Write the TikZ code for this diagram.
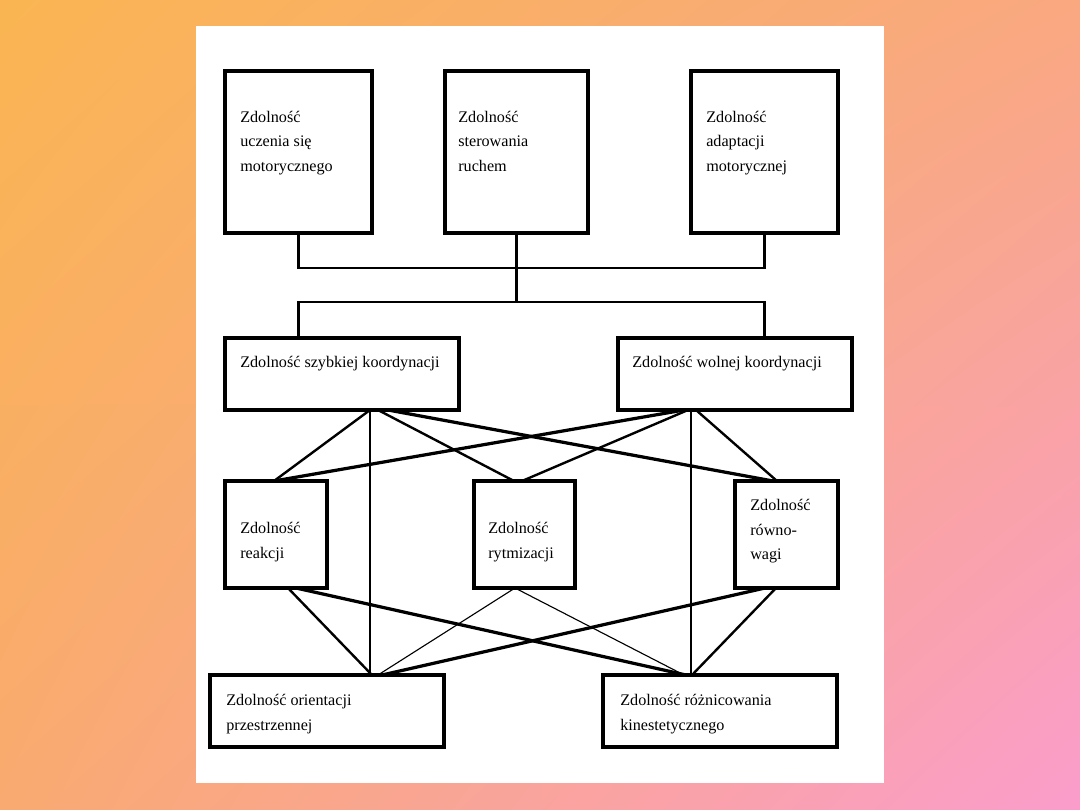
\documentclass[tikz,border=0pt]{standalone}
\usepackage{fontspec}
\setmainfont{Liberation Serif}
\usetikzlibrary{shadings}
\newcommand{\pxl}{0.025cm}
\definecolor{bgul}{RGB}{250,181,82}
\definecolor{bgur}{RGB}{249,168,128}
\definecolor{bgll}{RGB}{249,170,112}
\definecolor{bglr}{RGB}{250,157,204}
\begin{document}
\begin{tikzpicture}[x=\pxl,y=-\pxl,
  box/.style={draw=black,line width=2.4pt,inner sep=0pt,fill=white},
  txt/.style={anchor=north west,align=left,inner sep=0pt,font=\fontsize{11.5}{17.4}\selectfont},
  tree/.style={line width=2.1pt},
  link/.style={line width=1.7pt},
  heavy/.style={line width=2.3pt},
  faint/.style={line width=0.8pt}]
\useasboundingbox (0,0) rectangle (1080,810);
\shade[upper left=bgul,upper right=bgur,lower left=bgll,lower right=bglr] (0,0) rectangle (1080,810);
\fill[white] (196,26) rectangle (884,783);

\node[box,minimum width=147*\pxl,minimum height=162*\pxl] (uczenie) at (298.5,152) {};
\node[box,minimum width=143*\pxl,minimum height=162*\pxl] (sterowanie) at (516.5,152) {};
\node[box,minimum width=147*\pxl,minimum height=162*\pxl] (adaptacja) at (764.5,152) {};
\node[box,minimum width=234*\pxl,minimum height=72*\pxl] (szybka) at (342,374) {};
\node[box,minimum width=234*\pxl,minimum height=72*\pxl] (wolna) at (735,374) {};
\node[box,minimum width=102*\pxl,minimum height=107*\pxl] (reakcja) at (276,534.5) {};
\node[box,minimum width=101*\pxl,minimum height=107*\pxl] (rytm) at (524.5,534.5) {};
\node[box,minimum width=103*\pxl,minimum height=107*\pxl] (rownowaga) at (786.5,534.5) {};
\node[box,minimum width=234*\pxl,minimum height=72*\pxl] (orientacja) at (327,711) {};
\node[box,minimum width=234*\pxl,minimum height=72*\pxl] (roznicowanie) at (720,711) {};

\node[txt] (uczenieT) at (240,111) {Zdolność\\uczenia się\\motorycznego};
\node[txt] (sterowanieT) at (458,111) {Zdolność\\sterowania\\ruchem};
\node[txt] (adaptacjaT) at (706,111) {Zdolność\\adaptacji\\motorycznej};
\node[txt] (szybkaT) at (240,356) {Zdolność szybkiej koordynacji};
\node[txt] (wolnaT) at (632,356) {Zdolność wolnej koordynacji};
\node[txt] (reakcjaT) at (240,522) {Zdolność\\reakcji};
\node[txt] (rytmT) at (488,522) {Zdolność\\rytmizacji};
\node[txt] (rownowagaT) at (750,499) {Zdolność\\równo-\\wagi};
\node[txt] (orientacjaT) at (226,694) {Zdolność orientacji\\przestrzennej};
\node[txt] (roznicowanieT) at (620,694) {Zdolność różnicowania\\kinestetycznego};

\coordinate (topbar) at (516.5,268);
\coordinate (midbar) at (516.5,302);
\draw[tree] (uczenie.south) |- (topbar) -| (adaptacja.south);
\draw[tree] (sterowanie.south) -- (midbar);
\draw[tree] (szybka.north -| uczenie.south) |- (midbar) -| (wolna.north -| adaptacja.south);

\coordinate (sA) at (370,410);
\coordinate (sB) at (378,410);
\coordinate (sC) at (388,410);
\coordinate (lA) at (684,410);
\coordinate (lB) at (688,410);
\coordinate (lC) at (691,410);
\coordinate (lD) at (696,410);
\coordinate (rA) at (274,481);
\coordinate (tA) at (514,481);
\coordinate (tA2) at (522,481);
\coordinate (wA) at (773,481);
\coordinate (wA2) at (777,481);
\coordinate (oA) at (370,675);
\coordinate (dA) at (691,675);
\draw[link] (sA) -- (rA);
\draw[link] (sA) -- (oA);
\draw[link] (sB) -- (tA);
\draw[heavy] (sC) -- (wA);
\draw[heavy] (lA) -- (rA);
\draw[link] (lB) -- (tA2);
\draw[link] (lC) -- (dA);
\draw[link] (lD) -- (wA2);

\coordinate (rB) at (288,588);
\coordinate (rC) at (296,588);
\coordinate (tB) at (515,588);
\coordinate (wB) at (765,588);
\coordinate (wC) at (776,588);
\coordinate (oB) at (372,675);
\coordinate (oC) at (378,675);
\coordinate (oD) at (382,675);
\coordinate (dB) at (686,675);
\coordinate (dC) at (684,675);
\coordinate (dD) at (692,675);
\draw[link] (rB) -- (oB);
\draw[heavy] (rC) -- (dB);
\draw[faint] (tB) -- (oC);
\draw[faint] (tB) -- (dC);
\draw[heavy] (wB) -- (oD);
\draw[link] (wC) -- (dD);
\end{tikzpicture}
\end{document}
